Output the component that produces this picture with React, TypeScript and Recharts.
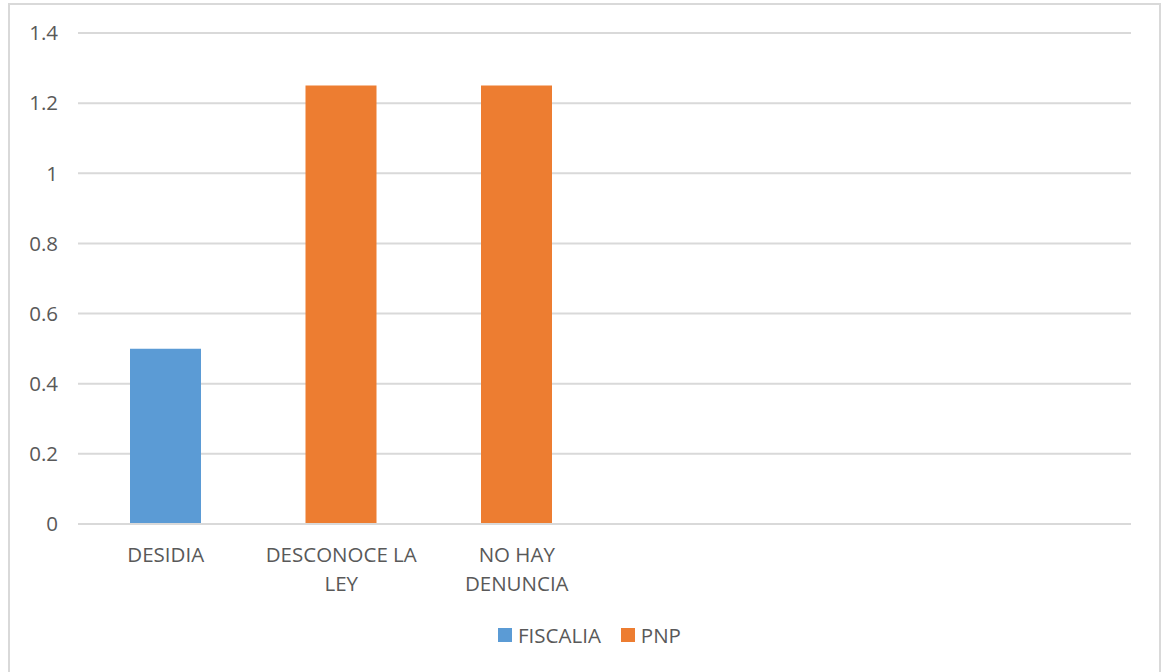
import { BarChart, Bar, XAxis, YAxis, CartesianGrid, Legend } from 'recharts';

const categories = ['DESIDIA', 'DESCONOCE LA LEY', 'NO HAY DENUNCIA', '', '', ''];
const fiscalia = [0.5, 0, 0, null, null, null];
const pnp = [0, 1.25, 1.25, null, null, null];
const yTicks = [0, 0.2, 0.4, 0.6, 0.8, 1, 1.2, 1.4];

const data = categories.map((name, i) => ({
  name,
  FISCALIA: fiscalia[i],
  PNP: pnp[i],
}));

const FONT = '"Open Sans", "Noto Sans", sans-serif';
const TEXT_COLOR = '#595959';

// greedy word wrap, Excel breaks these labels after ~12 chars
function wrap(label: string, maxChars = 12) {
  const lines: string[] = [];
  let cur = '';
  label.split(' ').forEach((w) => {
    if (cur && (cur + ' ' + w).length > maxChars) {
      lines.push(cur);
      cur = w;
    } else {
      cur = cur ? cur + ' ' + w : w;
    }
  });
  if (cur) lines.push(cur);
  return lines;
}

function CategoryTick(props: any) {
  const { x, y, payload } = props;
  const lines = wrap(String(payload.value || ''));
  return (
    <text x={x} y={y} textAnchor="middle" fill={TEXT_COLOR} fontSize={20.5} fontFamily={FONT}>
      {lines.map((l, i) => (
        <tspan key={i} x={x} y={y + 30 + i * 29}>
          {l}
        </tspan>
      ))}
    </text>
  );
}

function LegendContent(props: any) {
  const { payload } = props;
  return (
    <div
      style={{
        display: 'flex',
        justifyContent: 'center',
        gap: 20,
        paddingLeft: 38,
        fontFamily: FONT,
        fontSize: 20.5,
      }}
    >
      {(payload || []).map((p: any) => (
        <div key={p.value} style={{ display: 'flex', alignItems: 'center', gap: 6 }}>
          <span style={{ width: 14, height: 14, background: p.color, display: 'inline-block' }} />
          <span style={{ color: TEXT_COLOR }}>{p.value}</span>
        </div>
      ))}
    </div>
  );
}

export default function App() {
  return (
    <div
      style={{
        position: 'absolute',
        left: 8,
        top: 3,
        width: 1153,
        height: 669,
        border: '2px solid #d9d9d9',
        borderBottom: 'none',
        boxSizing: 'border-box',
        background: '#fff',
        overflow: 'hidden',
      }}
    >
      <BarChart
        width={1149}
        height={667}
        data={data}
        margin={{ top: 28, right: 28, left: 0, bottom: 23 }}
        barCategoryGap="20%"
      >
        <CartesianGrid vertical={false} stroke="#d9d9d9" strokeWidth={2} />
        <XAxis
          dataKey="name"
          axisLine={{ stroke: '#d9d9d9', strokeWidth: 2 }}
          tickLine={false}
          interval={0}
          height={97}
          tick={<CategoryTick />}
        />
        <YAxis
          width={68}
          domain={[0, 1.4]}
          ticks={yTicks}
          axisLine={false}
          tickLine={false}
          tickMargin={14}
          tick={{ fill: TEXT_COLOR, fontSize: 20.5, fontFamily: FONT }}
        />
        <Legend verticalAlign="bottom" align="center" content={<LegendContent />} />
        <Bar dataKey="FISCALIA" stackId="a" fill="#5b9bd5" barSize={71} isAnimationActive={false} />
        <Bar dataKey="PNP" stackId="a" fill="#ed7d31" barSize={71} isAnimationActive={false} />
      </BarChart>
    </div>
  );
}
